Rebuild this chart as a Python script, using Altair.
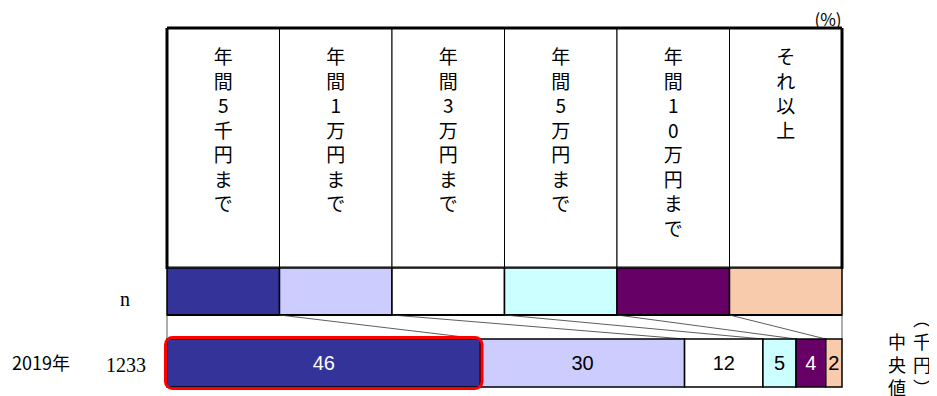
import altair as alt
import pandas as pd

# ---- data ----
categories = ["年間5千円まで", "年間1万円まで", "年間3万円まで",
              "年間5万円まで", "年間10万円まで", "それ以上"]
colors = ["#333399", "#CCCCFF", "#FFFFFF", "#CCFFFF", "#660066", "#F8CBAD"]
values_2019 = [46.4, 30.2, 11.6, 4.9, 4.4, 2.4]
row_label = "2019年"
n_value = "1233"
right_note_left = "中央値"
right_note_right = "︵千円︶"
unit_label = "(%)"
dark_fill = ["年間5千円まで", "年間10万円まで"]

total = sum(values_2019)
k = len(categories)

header = pd.DataFrame({
    "cat": categories,
    "hx0": [i * total / k for i in range(k)],
    "hx1": [(i + 1) * total / k for i in range(k)],
})
header["hxm"] = (header["hx0"] + header["hx1"]) / 2
header["txt"] = ["\n".join(list(c)) for c in categories]

cum = []
s = 0.0
for v in values_2019:
    cum.append(s)
    s += v
bar = pd.DataFrame({"cat": categories, "val": values_2019, "start": cum})
bar["end"] = bar["start"] + bar["val"]
bar["mid"] = (bar["start"] + bar["end"]) / 2
bar["lab"] = [f"{round(v)}" for v in values_2019]

conn = pd.DataFrame({
    "hx": [i * total / k for i in range(k + 1)],
    "bx": cum + [total],
})

xs = alt.Scale(domain=[0, total], nice=False, zero=False)
col = alt.Color("cat:N", scale=alt.Scale(domain=categories, range=colors), legend=None)
JP = "Noto Sans CJK JP"

Y_HEAD_B = 239
Y_SW_B = 287
Y_BAR_T = 311
Y_BAR_B = 359

head_cells = alt.Chart(header).mark_rect(fill="white", stroke="black", strokeWidth=1).encode(
    x=alt.X("hx0:Q", scale=xs, axis=None), x2="hx1:Q",
    y=alt.value(0), y2=alt.value(Y_HEAD_B))

head_text = alt.Chart(header).mark_text(
    font=JP, fontSize=19, lineBreak="\n", lineHeight=24.5, baseline="top",
    align="center", color="black").encode(
    x=alt.X("hxm:Q", scale=xs), y=alt.value(21), text="txt:N")

swatch = alt.Chart(header).mark_rect(stroke="black", strokeWidth=1.5).encode(
    x=alt.X("hx0:Q", scale=xs), x2="hx1:Q",
    y=alt.value(Y_HEAD_B + 1), y2=alt.value(Y_SW_B), color=col)

frame_df = pd.DataFrame({"a": [0], "b": [total]})
frame_top = alt.Chart(frame_df).mark_rule(color="black", strokeWidth=3).encode(
    x=alt.X("a:Q", scale=xs), x2="b:Q", y=alt.value(0))
frame_l = alt.Chart(frame_df).mark_rule(color="black", strokeWidth=3).encode(
    x=alt.X("a:Q", scale=xs), y=alt.value(0), y2=alt.value(Y_HEAD_B + 2))
frame_r = alt.Chart(frame_df).mark_rule(color="black", strokeWidth=3).encode(
    x=alt.X("b:Q", scale=xs), y=alt.value(0), y2=alt.value(Y_HEAD_B + 2))
sw_bottom = alt.Chart(frame_df).mark_rule(color="black", strokeWidth=2).encode(
    x=alt.X("a:Q", scale=xs), x2="b:Q", y=alt.value(Y_SW_B))

connectors = alt.Chart(conn).mark_rule(color="#333333", strokeWidth=0.8).encode(
    x=alt.X("hx:Q", scale=xs), x2="bx:Q",
    y=alt.value(Y_SW_B), y2=alt.value(Y_BAR_T))

bars = alt.Chart(bar).mark_rect(stroke="black", strokeWidth=1.5).encode(
    x=alt.X("start:Q", scale=xs), x2="end:Q",
    y=alt.value(Y_BAR_T), y2=alt.value(Y_BAR_B), color=col)

bar_text = alt.Chart(bar).mark_text(font="Liberation Sans", fontSize=20, baseline="middle").encode(
    x=alt.X("mid:Q", scale=xs), y=alt.value((Y_BAR_T + Y_BAR_B) / 2 + 1), text="lab:N",
    color=alt.condition(alt.FieldOneOfPredicate(field="cat", oneOf=dark_fill),
                        alt.value("white"), alt.value("black")))

highlight = alt.Chart(bar.iloc[[0]]).mark_rect(
    fill="transparent", stroke="red", strokeWidth=3, cornerRadius=7,
    xOffset=-1.5, x2Offset=1.5).encode(
    x=alt.X("start:Q", scale=xs), x2="end:Q",
    y=alt.value(Y_BAR_T - 1.5), y2=alt.value(Y_BAR_B + 1.5))

lab_df = pd.DataFrame({"a": [0]})
t_n = alt.Chart(lab_df).mark_text(text="n", font="Liberation Serif", fontSize=20,
                                  fontWeight="normal", align="center", baseline="middle").encode(
    x=alt.value(-42), y=alt.value(272))
t_n2 = alt.Chart(lab_df).mark_text(text=n_value, font="Liberation Serif", fontSize=20,
                                   align="center", baseline="middle").encode(
    x=alt.value(-41), y=alt.value(338))
t_year = alt.Chart(lab_df).mark_text(text=row_label, font=JP, fontSize=18,
                                     align="left", baseline="middle").encode(
    x=alt.value(-155), y=alt.value(337))
t_unit = alt.Chart(lab_df).mark_text(text=unit_label, font=JP, fontSize=17,
                                     align="center", baseline="middle").encode(
    x=alt.value(661), y=alt.value(-7))
t_rl = alt.Chart(lab_df).mark_text(text="\n".join(right_note_left), lineBreak="\n",
                                   lineHeight=23, font=JP, fontSize=18,
                                   align="center", baseline="top").encode(
    x=alt.value(730), y=alt.value(307))
t_rr = alt.Chart(lab_df).mark_text(text="\n".join(right_note_right), lineBreak="\n",
                                   lineHeight=23, font=JP, fontSize=18,
                                   align="center", baseline="top").encode(
    x=alt.value(755), y=alt.value(284))

chart = alt.layer(
    head_cells, head_text, swatch, frame_top, frame_l, frame_r, sw_bottom,
    connectors, bars, bar_text, highlight,
    t_n, t_n2, t_year, t_unit, t_rl, t_rr
).properties(
    width=675, height=359,
    autosize=alt.AutoSizeParams(type="none"),
    padding={"left": 159, "top": 20, "right": 87, "bottom": 12},
).configure_view(stroke=None)

chart.save("out.html", embed_options={"renderer": "svg", "actions": False})
